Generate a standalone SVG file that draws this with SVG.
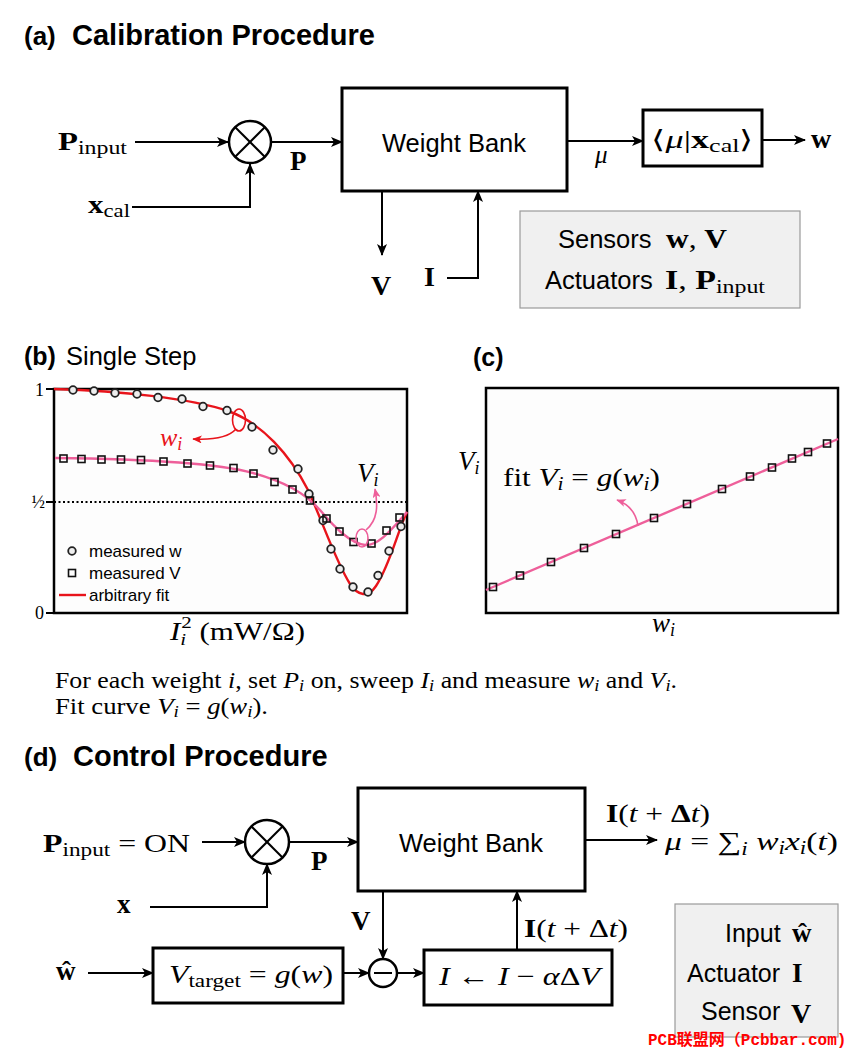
<svg xmlns="http://www.w3.org/2000/svg" width="851" height="1052" viewBox="0 0 851 1052">
<style>
.sans{font-family:"Liberation Sans",Arial,sans-serif}
.serif{font-family:"Liberation Serif","Times New Roman",serif}
.b{font-weight:bold}
.it{font-style:italic}
.ln{stroke:#000;stroke-width:2;fill:none}
.box{fill:#fff;stroke:#000;stroke-width:3}
.gbox{fill:#f0f0f0;stroke:#9a9a9a;stroke-width:1.2}
.plot{fill:#fdfdfd;stroke:#000;stroke-width:2.5}
.circ{fill:#fff;stroke:#000;stroke-width:2.5}
.mw{fill:#eee;stroke:#222;stroke-width:1.8}
.mv{fill:none;stroke:#111;stroke-width:1.6}
.red{stroke:#e8141b;fill:none}
.pink{stroke:#ee5f9a;fill:none}
</style>
<defs>
<marker id="ah" viewBox="0 0 12 10" refX="11" refY="5" markerWidth="13" markerHeight="10" orient="auto" markerUnits="userSpaceOnUse"><path d="M0,0 L12,5 L0,10 L3,5 z" fill="#000"/></marker>
<marker id="ahr" viewBox="0 0 12 10" refX="11" refY="5" markerWidth="10" markerHeight="8" orient="auto" markerUnits="userSpaceOnUse"><path d="M0,0 L12,5 L0,10 L3,5 z" fill="#e8141b"/></marker>
<marker id="ahp" viewBox="0 0 12 10" refX="11" refY="5" markerWidth="10" markerHeight="8" orient="auto" markerUnits="userSpaceOnUse"><path d="M0,0 L12,5 L0,10 L3,5 z" fill="#ee5f9a"/></marker>
</defs>
<rect width="851" height="1052" fill="#fff"/>

<!-- ===== (a) ===== -->
<g id="title-a" class="sans b"><text x="24" y="45" font-size="26">(a)</text><text x="72" y="45" font-size="29">Calibration Procedure</text></g>

<g id="a-connectors">
<line class="ln" x1="135" y1="142" x2="228" y2="142" marker-end="url(#ah)"/>
<line class="ln" x1="272" y1="142" x2="342" y2="142" marker-end="url(#ah)"/>
<polyline class="ln" points="132,207 250,207 250,164" marker-end="url(#ah)"/>
<line class="ln" x1="382" y1="191" x2="382" y2="255" marker-end="url(#ah)"/>
<polyline class="ln" points="447,278 478,278 478,191" marker-end="url(#ah)"/>
<line class="ln" x1="567" y1="141" x2="643" y2="141" marker-end="url(#ah)"/>
<line class="ln" x1="762" y1="140" x2="805" y2="140" marker-end="url(#ah)"/>
</g>

<g id="a-labels" class="serif">
<text x="58" y="150" font-size="26" textLength="69" lengthAdjust="spacingAndGlyphs"><tspan class="b">P</tspan><tspan font-size="19" dy="4">input</tspan></text>
<text x="88" y="213" font-size="26" textLength="42" lengthAdjust="spacingAndGlyphs"><tspan class="b">x</tspan><tspan font-size="19" dy="4">cal</tspan></text>
<text x="290" y="170" font-size="27" class="b">P</text>
<text x="371" y="295" font-size="28" class="b">V</text>
<text x="424" y="286" font-size="28" class="b">I</text>
<text x="595" y="163" font-size="25" class="it">μ</text>
<text x="811" y="148" font-size="28" class="b">w</text>
</g>

<g id="a-mult"><circle class="circ" cx="250" cy="142" r="21"/><line class="ln" x1="235" y1="127" x2="265" y2="157"/><line class="ln" x1="265" y1="127" x2="235" y2="157"/></g>

<g id="a-weightbank"><rect class="box" x="342" y="88" width="225" height="103"/><text class="sans" x="454" y="152" font-size="25.5" text-anchor="middle">Weight Bank</text></g>

<g id="a-inner"><rect class="box" x="643" y="110" width="119" height="56" stroke-width="2.8"/><text class="serif" x="651" y="148" font-size="25" textLength="103" lengthAdjust="spacingAndGlyphs">⟨<tspan class="it">μ</tspan>|<tspan class="b">x</tspan><tspan font-size="18" dy="4">cal</tspan><tspan dy="-4">⟩</tspan></text></g>

<g id="a-legend"><rect class="gbox" x="520" y="211" width="280" height="97"/>
<text class="sans" x="558" y="248" font-size="25.5">Sensors</text>
<text class="serif" x="666" y="248" font-size="27" textLength="61" lengthAdjust="spacingAndGlyphs"><tspan class="b">w</tspan>, <tspan class="b">V</tspan></text>
<text class="sans" x="545" y="289" font-size="25.5">Actuators</text>
<text class="serif" x="665" y="289" font-size="27" textLength="100" lengthAdjust="spacingAndGlyphs"><tspan class="b">I</tspan>, <tspan class="b">P</tspan><tspan font-size="19" dy="4">input</tspan></text>
</g>

<!-- ===== (b) ===== -->
<g id="title-b" class="sans"><text x="24" y="365" font-size="25" class="b">(b)</text><text x="66" y="365" font-size="25.5">Single Step</text></g>

<g id="plot-b">
<rect class="plot" x="54" y="389" width="353" height="224"/>
<g class="ln"><line x1="46" y1="389" x2="54" y2="389"/><line x1="46" y1="502" x2="54" y2="502"/><line x1="46" y1="613" x2="54" y2="613"/></g>
<g class="serif" font-size="18" text-anchor="end"><text x="44" y="396">1</text><text x="45" y="508">½</text><text x="44" y="619">0</text></g>
<line x1="54" y1="502" x2="407" y2="502" stroke="#000" stroke-width="2" stroke-dasharray="2,2.5"/>
<path class="red" stroke-width="2.4" d="M54,389 C120,391 190,398 228,411 C262,423 290,455 308,490 C322,520 335,560 350,584 C358,596 368,598 376,586 C390,565 398,530 407,512"/>
<path class="pink" stroke-width="2.4" d="M55,458 C150,459 220,464 253,473 C285,482 305,493 320,510 C335,528 350,543 365,545 C380,546 395,525 407,512"/>
<g class="mw">
<circle cx="73" cy="390" r="3.8"/><circle cx="94" cy="391" r="3.8"/><circle cx="115" cy="393" r="3.8"/><circle cx="137" cy="394" r="3.8"/><circle cx="158" cy="397.5" r="3.8"/><circle cx="182" cy="399" r="3.8"/><circle cx="203" cy="406.5" r="3.8"/><circle cx="227" cy="410.5" r="3.8"/><circle cx="252" cy="427" r="3.8"/><circle cx="273" cy="450" r="3.8"/><circle cx="298" cy="469" r="3.8"/><circle cx="309" cy="494" r="3.8"/><circle cx="323" cy="520.5" r="3.8"/><circle cx="331" cy="549" r="3.8"/><circle cx="340" cy="569" r="3.8"/><circle cx="353" cy="587" r="3.8"/><circle cx="368" cy="592" r="3.8"/><circle cx="378" cy="575.5" r="3.8"/><circle cx="389" cy="551" r="3.8"/><circle cx="401" cy="526.5" r="3.8"/>
</g>
<g class="mv">
<rect x="60" y="455" width="7" height="7"/><rect x="78" y="455.5" width="7" height="7"/><rect x="98" y="456" width="7" height="7"/><rect x="117.5" y="456" width="7" height="7"/><rect x="137.5" y="456.5" width="7" height="7"/><rect x="160" y="458" width="7" height="7"/><rect x="184" y="460" width="7" height="7"/><rect x="206.5" y="462" width="7" height="7"/><rect x="230" y="464.5" width="7" height="7"/><rect x="250" y="470" width="7" height="7"/><rect x="271" y="478.5" width="7" height="7"/><rect x="289" y="486" width="7" height="7"/><rect x="306.5" y="497" width="7" height="7"/><rect x="323" y="515" width="7" height="7"/><rect x="336" y="528" width="7" height="7"/><rect x="350" y="538.5" width="7" height="7"/><rect x="368" y="540" width="7" height="7"/><rect x="383" y="527" width="7" height="7"/><rect x="396" y="514" width="7" height="7"/>
</g>
<g id="b-legend">
<circle class="mw" cx="72" cy="551" r="3.8"/><text class="sans" x="89" y="557" font-size="17">measured w</text>
<rect class="mv" x="68.5" y="569.5" width="7" height="7"/><text class="sans" x="89" y="579" font-size="17">measured V</text>
<line x1="59" y1="595" x2="86" y2="595" stroke="#e8141b" stroke-width="2.4"/><text class="sans" x="89" y="601" font-size="17">arbitrary fit</text>
</g>
<g id="b-annot-w">
<ellipse class="red" stroke-width="1.6" cx="239" cy="420" rx="6.5" ry="11"/>
<path class="red" stroke-width="1.6" d="M236,429 C228,438 212,440 193,439" marker-end="url(#ahr)"/>
<text class="serif it" x="160" y="446" font-size="26" fill="#e8141b">w<tspan font-size="18" dy="4">i</tspan></text>
</g>
<g id="b-annot-v">
<ellipse class="pink" stroke-width="1.6" cx="362" cy="538" rx="6" ry="9"/>
<path class="pink" stroke-width="1.6" d="M366,530 C378,520 378,505 375,489" marker-end="url(#ahp)"/>
<text class="serif it" x="357" y="482" font-size="27">V<tspan font-size="18" dy="4">i</tspan></text>
</g>
<text class="serif" x="170" y="640" font-size="25" textLength="135" lengthAdjust="spacingAndGlyphs"><tspan class="it">I</tspan><tspan font-size="17" class="it" dy="5">i</tspan><tspan font-size="17" dx="-4" dy="-17">2</tspan><tspan dy="12"> (mW/Ω)</tspan></text>
</g>

<!-- ===== (c) ===== -->
<g id="title-c" class="sans b"><text x="473" y="366" font-size="25">(c)</text></g>
<g id="plot-c">
<rect class="plot" x="486" y="388" width="352" height="225"/>
<line class="pink" stroke-width="2.4" x1="486" y1="590" x2="838" y2="439"/>
<g class="mv">
<rect x="489.5" y="583.5" width="7" height="7"/><rect x="516.5" y="572" width="7" height="7"/><rect x="547.5" y="558.5" width="7" height="7"/><rect x="580.5" y="544.5" width="7" height="7"/><rect x="612.5" y="530.5" width="7" height="7"/><rect x="650.5" y="514.5" width="7" height="7"/><rect x="683.5" y="500.5" width="7" height="7"/><rect x="718.5" y="485.5" width="7" height="7"/><rect x="746.5" y="473" width="7" height="7"/><rect x="768.5" y="464" width="7" height="7"/><rect x="788.5" y="455" width="7" height="7"/><rect x="804.5" y="448.5" width="7" height="7"/><rect x="823.5" y="440" width="7" height="7"/>
</g>
<text class="serif it" x="458" y="470" font-size="27">V<tspan font-size="18" dy="4">i</tspan></text>
<text class="serif it" x="652" y="632" font-size="27">w<tspan font-size="18" dy="4">i</tspan></text>
<text class="serif" x="503" y="486" font-size="26" textLength="157" lengthAdjust="spacingAndGlyphs">fit <tspan class="it">V</tspan><tspan class="it" font-size="18" dy="4">i</tspan><tspan dy="-4"> = </tspan><tspan class="it">g</tspan>(<tspan class="it">w</tspan><tspan class="it" font-size="18" dy="4">i</tspan><tspan dy="-4">)</tspan></text>
<path class="pink" stroke-width="1.6" d="M638,526 C636,512 628,504 617,500" marker-end="url(#ahp)"/>
</g>

<!-- caption -->
<g id="caption" class="serif" font-size="22.5">
<text x="55" y="688" textLength="622" lengthAdjust="spacingAndGlyphs">For each weight <tspan class="it">i</tspan>, set <tspan class="it">P</tspan><tspan class="it" font-size="16" dy="3">i</tspan><tspan dy="-3"> on, sweep </tspan><tspan class="it">I</tspan><tspan class="it" font-size="16" dy="3">i</tspan><tspan dy="-3"> and measure </tspan><tspan class="it">w</tspan><tspan class="it" font-size="16" dy="3">i</tspan><tspan dy="-3"> and </tspan><tspan class="it">V</tspan><tspan class="it" font-size="16" dy="3">i</tspan><tspan dy="-3">.</tspan></text>
<text x="55" y="714" textLength="213" lengthAdjust="spacingAndGlyphs">Fit curve <tspan class="it">V</tspan><tspan class="it" font-size="16" dy="3">i</tspan><tspan dy="-3"> = </tspan><tspan class="it">g</tspan>(<tspan class="it">w</tspan><tspan class="it" font-size="16" dy="3">i</tspan><tspan dy="-3">).</tspan></text>
</g>

<!-- ===== (d) ===== -->
<g id="title-d" class="sans b"><text x="24" y="766" font-size="26">(d)</text><text x="73" y="766" font-size="29">Control Procedure</text></g>

<g id="d-connectors">
<line class="ln" x1="202" y1="842" x2="245" y2="842" marker-end="url(#ah)"/>
<line class="ln" x1="289" y1="842" x2="358" y2="842" marker-end="url(#ah)"/>
<polyline class="ln" points="150,907 267,907 267,864" marker-end="url(#ah)"/>
<line class="ln" x1="585" y1="840" x2="657" y2="840" marker-end="url(#ah)"/>
<line class="ln" x1="383" y1="891" x2="383" y2="959" marker-end="url(#ah)"/>
<line class="ln" x1="88" y1="973" x2="153" y2="973" marker-end="url(#ah)"/>
<line class="ln" x1="343" y1="973" x2="369" y2="973" marker-end="url(#ah)"/>
<line class="ln" x1="397" y1="973" x2="424" y2="973" marker-end="url(#ah)"/>
<line class="ln" x1="517" y1="950" x2="517" y2="891" marker-end="url(#ah)"/>
</g>

<g id="d-labels" class="serif" font-size="26">
<text x="43" y="852" textLength="147" lengthAdjust="spacingAndGlyphs"><tspan class="b">P</tspan><tspan font-size="19" dy="4">input</tspan><tspan dy="-4"> = ON</tspan></text>
<text x="117" y="913" class="b" font-size="27">x</text>
<text x="311" y="870" class="b" font-size="27">P</text>
<text x="351" y="930" class="b" font-size="27">V</text>
<text x="56" y="980" class="b" font-size="27">ŵ</text>
<text x="606" y="822" font-size="25" textLength="104" lengthAdjust="spacingAndGlyphs"><tspan class="b">I</tspan>(<tspan class="it">t</tspan> + <tspan class="b">Δ</tspan><tspan class="it">t</tspan>)</text>
<text x="665" y="850" textLength="173" lengthAdjust="spacingAndGlyphs"><tspan class="it">μ</tspan> = ∑<tspan class="it" font-size="18" dy="5">i</tspan><tspan class="it" dy="-5"> w</tspan><tspan class="it" font-size="18" dy="4">i</tspan><tspan class="it" dy="-4">x</tspan><tspan class="it" font-size="18" dy="4">i</tspan><tspan dy="-4">(</tspan><tspan class="it">t</tspan>)</text>
<text x="524" y="937" textLength="104" lengthAdjust="spacingAndGlyphs"><tspan class="b">I</tspan>(<tspan class="it">t</tspan> + Δ<tspan class="it">t</tspan>)</text>
</g>

<g id="d-mult"><circle class="circ" cx="267" cy="842" r="22"/><line class="ln" x1="251.5" y1="826.5" x2="282.5" y2="857.5"/><line class="ln" x1="282.5" y1="826.5" x2="251.5" y2="857.5"/></g>

<g id="d-weightbank"><rect class="box" x="358" y="788" width="227" height="103"/><text class="sans" x="471" y="852" font-size="25.5" text-anchor="middle">Weight Bank</text></g>

<g id="d-minus"><circle class="circ" cx="383" cy="973" r="14" stroke-width="2.2"/><line class="ln" x1="374" y1="973" x2="392" y2="973"/></g>

<g id="d-vtarget"><rect class="box" x="153" y="948" width="190" height="55"/><text class="serif" x="169" y="983" font-size="26" textLength="164" lengthAdjust="spacingAndGlyphs"><tspan class="it">V</tspan><tspan font-size="19" dy="4">target</tspan><tspan dy="-4"> = </tspan><tspan class="it">g</tspan>(<tspan class="it">w</tspan>)</text></g>

<g id="d-update"><rect class="box" x="424" y="950" width="188" height="55"/><text class="serif" x="439" y="985" font-size="26" textLength="161" lengthAdjust="spacingAndGlyphs"><tspan class="it">I</tspan> ← <tspan class="it">I</tspan> − <tspan class="it">α</tspan>Δ<tspan class="it">V</tspan></text></g>

<g id="d-legend"><rect class="gbox" x="675" y="904" width="163" height="133"/>
<text class="sans" x="725" y="942" font-size="25">Input</text><text class="serif b" x="792" y="942" font-size="27">ŵ</text>
<text class="sans" x="687" y="982" font-size="25">Actuator</text><text class="serif b" x="792" y="982" font-size="27">I</text>
<text class="sans" x="701" y="1020" font-size="25">Sensor</text><text class="serif b" x="791" y="1023" font-size="28">V</text>
</g>

<text id="watermark" x="648" y="1045" font-size="16" fill="#f00" font-family="'Liberation Mono','Noto Sans CJK SC',monospace" font-weight="bold">PCB联盟网（Pcbbar.com)</text>
</svg>
